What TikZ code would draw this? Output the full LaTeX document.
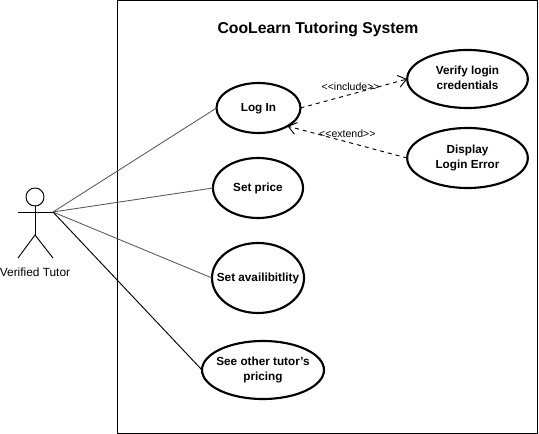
\documentclass[tikz,border=0pt]{standalone}
\usepackage{fontspec}
\setmainfont{Liberation Sans}
\usetikzlibrary{arrows.meta,shapes.geometric}
\newcommand{\uctext}[1]{\hbox to 0pt{\hss\smash{\lower2.4pt\hbox{\begin{tabular}{@{}c@{}}#1\end{tabular}}}\hss}}
\tikzset{
 usecase/.style={draw,ellipse,line width=1.6pt,inner sep=0pt,outer sep=0pt,font=\bfseries\fontsize{8.8}{10.6}\selectfont},
 assoc/.style={draw=black!65,line width=0.65pt},
 dep/.style={dashed,line width=0.7pt,-{Straight Barb[length=6pt,width=9pt]}},
 stereo/.style={font=\fontsize{7.9}{9}\selectfont,inner sep=0pt}
}
\begin{document}
\begin{tikzpicture}[x=0.75pt,y=-0.75pt]
\useasboundingbox (0,0) rectangle (539,434);
\draw[line width=0.7pt] (117.5,0.5) rectangle (537.5,433.5);
\node[font=\bfseries\fontsize{11.8}{15}\selectfont] (title) at (318,29.5) {CooLearn Tutoring System};
\node[usecase,minimum width=63pt,minimum height=37.5pt] (login) at (258.5,108) {\uctext{Log In}};
\node[usecase,minimum width=67.5pt,minimum height=45pt] (price) at (258,188) {\uctext{Set price}};
\node[usecase,minimum width=69pt,minimum height=52.5pt] (avail) at (258,278) {\uctext{Set availibitlity}};
\node[usecase,minimum width=91.5pt,minimum height=43.5pt] (pricing) at (263,370) {\uctext{See other tutor's\\pricing}};
\node[usecase,minimum width=90.5pt,minimum height=43.5pt] (verify) at (467.5,79) {\uctext{Verify login\\credentials}};
\node[usecase,minimum width=90.5pt,minimum height=45pt] (error) at (467.5,158) {\uctext{Display\\Login Error}};
\coordinate (hand) at (53,212);
\coordinate (hip) at (35,235);
\draw[line width=0.7pt] (35,197) circle[radius=6.75pt];
\draw[line width=0.7pt] (35,206) -- (hip);
\draw[line width=0.7pt] (18,212) -- (hand);
\draw[line width=0.7pt] (18,258) -- (hip) -- (53,258);
\node[font=\fontsize{8.9}{10}\selectfont] (actor) at (35,272) {Verified Tutor};
\draw[assoc] (hand) -- (login.west);
\draw[assoc] (hand) -- (price.west);
\draw[assoc] (hand) -- (avail.west);
\draw[line width=0.7pt] (hand) -- (pricing.west);
\draw[dep] (login.east) -- node[stereo,pos=0.47,yshift=6pt] {{<}{<}include{>}{>}} (verify.west);
\draw[dep] (error.west) -- node[stereo,pos=0.5,yshift=6pt] {{<}{<}extend{>}{>}} (login.-32);
\end{tikzpicture}
\end{document}
